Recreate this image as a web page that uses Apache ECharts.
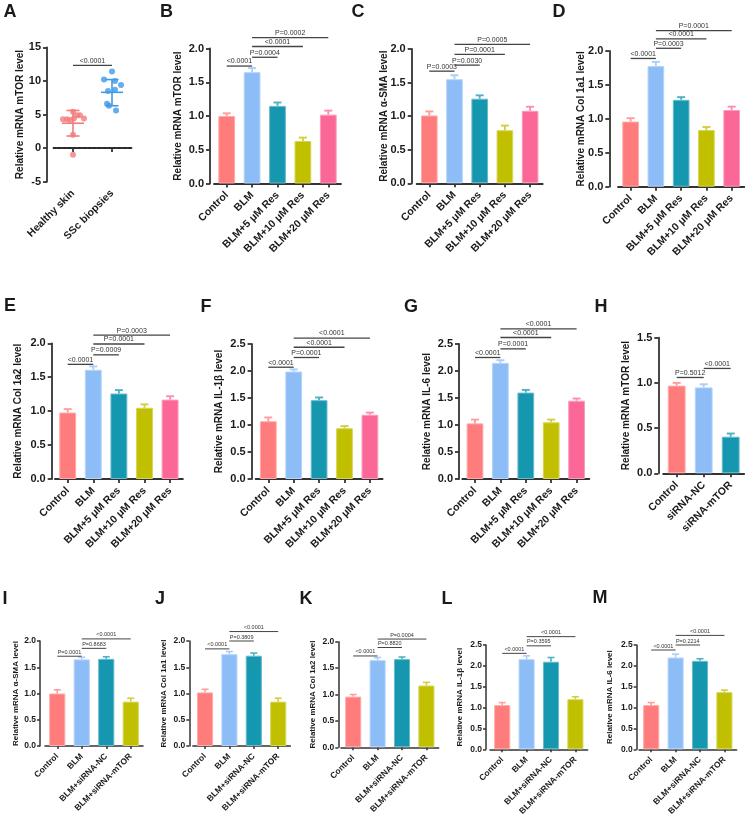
<!DOCTYPE html>
<html><head><meta charset="utf-8">
<script src="https://cdn.jsdelivr.net/npm/echarts@6/dist/echarts.min.js"></script>
<style>html,body{margin:0;padding:0;background:#fff}#c{width:753px;height:815px}</style>
</head><body><div id="c"></div>
<script>
// ================= DATA =================
const catsA = ['Healthy skin', 'SSc biopsies'];
const catsRes = ['Control', 'BLM', 'BLM+5 μM Res', 'BLM+10 μM Res', 'BLM+20 μM Res'];
const catsSi = ['Control', 'siRNA-NC', 'siRNA-mTOR'];
const catsBlmSi = ['Control', 'BLM', 'BLM+siRNA-NC', 'BLM+siRNA-mTOR'];

// Panel A (individual points)
const healthyVals = [5.4, 4.9, 4.9, 4.4, 4.4, 4.3, 4.3, 4.2, 2.0, -1.0];
const healthyJitter = [0, 4, 7, 11, 1, -10, -6, -3, 0, 0];
const sscVals = [11.4, 10.2, 10.0, 9.4, 8.7, 8.5, 6.6, 6.3, 5.6];
const sscJitter = [0, -8, 3, 9, 3, -4, -5, -3, 4];
const aMean = [3.7, 8.3];
const aSdLow = [1.8, 6.3];
const aSdHigh = [5.6, 10.2];
const aSig = [[0, 1, 12.3, '<0.0001']];

// Bar panels: mean, upper error, significance brackets [from, to, y, label]
const bMean = [1.00, 1.65, 1.15, 0.63, 1.02];
const bErr  = [1.04, 1.71, 1.20, 0.68, 1.08];
const bSig  = [[0,1,1.74,'<0.0001'],[1,2,1.87,'P=0.0004'],[1,3,2.03,'<0.0001'],[1,4,2.16,'P=0.0002']];

const cMean = [1.01, 1.55, 1.26, 0.79, 1.08];
const cErr  = [1.07, 1.61, 1.31, 0.86, 1.14];
const cSig  = [[0,1,1.67,'P=0.0003'],[1,2,1.76,'P=0.0030'],[1,3,1.92,'P=0.0001'],[1,4,2.07,'P=0.0005']];

const dMean = [0.96, 1.78, 1.28, 0.835, 1.13];
const dErr  = [1.01, 1.84, 1.32, 0.88, 1.18];
const dSig  = [[0,1,1.89,'<0.0001'],[1,2,2.04,'P=0.0003'],[1,3,2.18,'<0.0001'],[1,4,2.30,'P=0.0001']];

const eMean = [0.98, 1.61, 1.26, 1.05, 1.17];
const eErr  = [1.03, 1.66, 1.31, 1.10, 1.22];
const eSig  = [[0,1,1.69,'<0.0001'],[1,2,1.83,'P=0.0009'],[1,3,1.99,'P=0.0001'],[1,4,2.12,'P=0.0003']];

const fMean = [1.07, 1.99, 1.46, 0.94, 1.19];
const fErr  = [1.14, 2.03, 1.51, 0.98, 1.23];
const fSig  = [[0,1,2.07,'<0.0001'],[1,2,2.25,'P=0.0001'],[1,3,2.44,'<0.0001'],[1,4,2.61,'<0.0001']];

const gMean = [1.03, 2.15, 1.60, 1.05, 1.45];
const gErr  = [1.10, 2.20, 1.65, 1.10, 1.49];
const gSig  = [[0,1,2.25,'<0.0001'],[1,2,2.41,'P=0.0001'],[1,3,2.62,'<0.0001'],[1,4,2.78,'<0.0001']];

const hMean = [0.97, 0.95, 0.405];
const hErr  = [1.00, 0.985, 0.44];
const hSig  = [[0,1,1.06,'P=0.5012'],[1,2,1.16,'<0.0001']];

const iMean = [1.00, 1.65, 1.66, 0.845];
const iErr  = [1.07, 1.69, 1.70, 0.91];
const iSig  = [[0,1,1.71,'P=0.0001'],[1,2,1.86,'P=0.8683'],[1,3,2.04,'<0.0001']];

const jMean = [1.02, 1.75, 1.72, 0.845];
const jErr  = [1.08, 1.80, 1.77, 0.91];
const jSig  = [[0,1,1.85,'<0.0001'],[1,2,2.00,'P=0.3809'],[1,3,2.18,'<0.0001']];

const kMean = [0.96, 1.65, 1.67, 1.17];
const kErr  = [1.00, 1.70, 1.71, 1.23];
const kSig  = [[0,1,1.73,'<0.0001'],[1,2,1.89,'P=0.8820'],[1,3,2.05,'P=0.0004']];

const lMean = [1.06, 2.16, 2.10, 1.20];
const lErr  = [1.12, 2.24, 2.20, 1.26];
const lSig  = [[0,1,2.30,'<0.0001'],[1,2,2.48,'P=0.3595'],[1,3,2.70,'<0.0001']];

const mMean = [1.06, 2.20, 2.12, 1.37];
const mErr  = [1.12, 2.28, 2.17, 1.42];
const mSig  = [[0,1,2.38,'<0.0001'],[1,2,2.50,'P=0.2214'],[1,3,2.73,'<0.0001']];

// ================= STYLE / LAYOUT =================
const FONT = '"Liberation Sans", Arial, Helvetica, sans-serif';
const AX = '#333';
const colRes = ['#ff7c7c', '#8dbdf7', '#1697b0', '#c0bf00', '#fb6797'];
const colH = ['#ff7c7c', '#8dbdf7', '#1697b0'];
const colSi = ['#ff7c7c', '#8dbdf7', '#1697b0', '#c0bf00'];

function lighten(hex, t) {
  const n = parseInt(hex.slice(1), 16);
  let r = n >> 16, g = (n >> 8) & 255, b = n & 255;
  r = Math.round(r + (255 - r) * t); g = Math.round(g + (255 - g) * t); b = Math.round(b + (255 - b) * t);
  return 'rgb(' + r + ',' + g + ',' + b + ')';
}

const BIG = {tick: 11, title: 10, cat: 10.5, sig: 7, cap: 4, lw: 1.5, tickMargin: 6, tickLen: 4, sigLw: 1.3, catMargin: 10};
const SMALL = {tick: 8.5, title: 8, cat: 8.5, sig: 5.5, cap: 3.5, lw: 1.2, tickMargin: 4, tickLen: 3, sigLw: 1, catMargin: 9};

const panels = [
  {cats: catsRes, mean: bMean, err: bErr, sig: bSig, col: colRes, title: 'Relative mRNA mTOR level', left: 214, top: 48.5, width: 127, height: 135, yMax: 2, off: 4, gap: 27, s: BIG},
  {cats: catsRes, mean: cMean, err: cErr, sig: cSig, col: colRes, title: 'Relative mRNA α-SMA level', left: 416.7, top: 49, width: 126, height: 134.3, yMax: 2, off: 5, gap: 22, s: BIG},
  {cats: catsRes, mean: dMean, err: dErr, sig: dSig, col: colRes, title: 'Relative mRNA Col 1a1 level', left: 618, top: 51, width: 126.3, height: 135.7, yMax: 2, off: 8.7, gap: 23, s: BIG},
  {cats: catsRes, mean: eMean, err: eErr, sig: eSig, col: colRes, title: 'Relative mRNA Col 1a2 level', left: 54.9, top: 343.3, width: 128, height: 135.7, yMax: 2, off: 3.2, gap: 28, s: BIG},
  {cats: catsRes, mean: fMean, err: fErr, sig: fSig, col: colRes, title: 'Relative mRNA IL-1β level', left: 255.6, top: 344, width: 127, height: 135, yMax: 2.5, off: 4, gap: 27, s: BIG},
  {cats: catsRes, mean: gMean, err: gErr, sig: gSig, col: colRes, title: 'Relative mRNA IL-6 level', left: 462.3, top: 344, width: 127, height: 135, yMax: 2.5, off: 3.3, gap: 27, s: BIG},
  {cats: catsSi, mean: hMean, err: hErr, sig: hSig, col: colH, title: 'Relative mRNA mTOR level', left: 663.2, top: 337.7, width: 81, height: 135.6, yMax: 1.5, off: 4.9, gap: 27, s: BIG},
  {cats: catsBlmSi, mean: iMean, err: iErr, sig: iSig, col: colSi, title: 'Relative mRNA α-SMA level', left: 45, top: 641, width: 98, height: 105, yMax: 2, off: 5, gap: 20.5, s: SMALL},
  {cats: catsBlmSi, mean: jMean, err: jErr, sig: jSig, col: colSi, title: 'Relative mRNA Col 1a1 level', left: 192.8, top: 641, width: 97.6, height: 105, yMax: 2, off: 3.5, gap: 22, s: SMALL},
  {cats: catsBlmSi, mean: kMean, err: kErr, sig: kSig, col: colSi, title: 'Relative mRNA Col 1a2 level', left: 341, top: 641.7, width: 97.6, height: 105.6, yMax: 2, off: 2.7, gap: 22, s: SMALL},
  {cats: catsBlmSi, mean: lMean, err: lErr, sig: lSig, col: colSi, title: 'Relative mRNA IL-1β level', left: 490, top: 645, width: 97.6, height: 104.3, yMax: 2.5, off: 4, gap: 22, s: SMALL},
  {cats: catsBlmSi, mean: mMean, err: mErr, sig: mSig, col: colSi, title: 'Relative mRNA IL-6 level', left: 639, top: 645, width: 97.6, height: 104.3, yMax: 2.5, off: 2.3, gap: 23, s: SMALL}
];

const letters = [
  ['A', 10, 12.5], ['B', 166.5, 12], ['C', 358, 12], ['D', 559, 12.5],
  ['E', 10, 306], ['F', 206, 307], ['G', 411, 307], ['H', 601, 307],
  ['I', 5, 599], ['J', 160, 599], ['K', 306, 599], ['L', 447, 599], ['M', 600, 598]
];

// ================= BUILD =================
const grid = [], xAxis = [], yAxis = [], series = [];

function axisPair(gi, cats, s, yMin, yMax, yInt, off, gap, title, fmt) {
  xAxis.push({
    gridIndex: gi, type: 'category', data: cats,
    axisLine: {show: true, lineStyle: {color: AX, width: s.lw + 0.3}},
    axisTick: {show: true, alignWithLabel: true, length: s.tickLen, lineStyle: {color: AX, width: s.lw + 0.3}},
    axisLabel: {rotate: 45, interval: 0, fontSize: s.cat, fontWeight: 'bold', color: '#1a1a1a', fontFamily: FONT, margin: s.catMargin},
    splitLine: {show: false}
  });
  yAxis.push({
    gridIndex: gi, type: 'value', min: yMin, max: yMax, interval: yInt, offset: off,
    name: title, nameLocation: 'middle', nameGap: gap, nameMoveOverlap: false,
    nameTextStyle: {fontSize: s.title, fontWeight: 'bold', color: '#1a1a1a', fontFamily: FONT},
    axisLine: {show: true, lineStyle: {color: AX, width: s.lw + 0.3}},
    axisTick: {show: true, length: s.tickLen, lineStyle: {color: AX, width: s.lw + 0.3}},
    axisLabel: {fontSize: s.tick, fontWeight: 'bold', color: '#1a1a1a', fontFamily: FONT, margin: s.tickMargin, formatter: fmt},
    splitLine: {show: false}
  });
}

function sigSeries(gi, sig, s) {
  const labels = sig.map(d => d[3]);
  series.push({
    type: 'custom', xAxisIndex: gi, yAxisIndex: gi, clip: false, silent: true, z: 5,
    data: sig.map(d => [d[0], d[1], d[2]]),
    encode: {x: [0, 1], y: 2},
    renderItem: function (params, api) {
      const a = api.coord([api.value(0), api.value(2)]);
      const b = api.coord([api.value(1), api.value(2)]);
      return {type: 'group', children: [
        {type: 'line', shape: {x1: a[0], y1: a[1], x2: b[0], y2: b[1]}, style: {stroke: '#444', lineWidth: s.sigLw}},
        {type: 'text', style: {text: labels[params.dataIndex], x: (a[0] + b[0]) / 2, y: a[1] - 1,
          align: 'center', verticalAlign: 'bottom', fontSize: s.sig, fill: '#333', fontFamily: FONT}}
      ]};
    }
  });
}

// ---- Panel A ----
grid.push({left: 53.5, top: 47.3, width: 78, height: 134.4, outerBoundsMode: 'none', containLabel: false});
axisPair(0, catsA, BIG, -5, 15, 5, 6.5, 22, 'Relative mRNA mTOR level', v => String(v));
const aCol = ['#f47b7b', '#3f9ae6'];
series.push({
  type: 'scatter', xAxisIndex: 0, yAxisIndex: 0, symbolSize: 6, z: 3,
  itemStyle: {color: aCol[0]},
  data: healthyVals.map((v, k) => ({value: [0, v], symbolOffset: [healthyJitter[k], 0]})),
  markLine: {silent: true, symbol: 'none', label: {show: false},
    lineStyle: {type: [2, 3], color: '#222', width: 1.5}, data: [{yAxis: 0}]}
});
series.push({
  type: 'scatter', xAxisIndex: 0, yAxisIndex: 0, symbolSize: 6, z: 3,
  itemStyle: {color: aCol[1]},
  data: sscVals.map((v, k) => ({value: [1, v], symbolOffset: [sscJitter[k], 0]}))
});
series.push({
  type: 'custom', xAxisIndex: 0, yAxisIndex: 0, clip: false, silent: true, z: 4,
  data: aMean.map((m, i) => [i, m, aSdLow[i], aSdHigh[i]]),
  encode: {x: 0, y: [1, 2, 3]},
  renderItem: function (params, api) {
    const i = api.value(0);
    const pm = api.coord([i, api.value(1)]);
    const pl = api.coord([i, api.value(2)]);
    const ph = api.coord([i, api.value(3)]);
    const st = {stroke: aCol[i], lineWidth: 1.6};
    return {type: 'group', children: [
      {type: 'line', shape: {x1: pm[0] - 11, y1: pm[1], x2: pm[0] + 11, y2: pm[1]}, style: st},
      {type: 'line', shape: {x1: pm[0], y1: pl[1], x2: pm[0], y2: ph[1]}, style: st},
      {type: 'line', shape: {x1: pm[0] - 6.5, y1: pl[1], x2: pm[0] + 6.5, y2: pl[1]}, style: st},
      {type: 'line', shape: {x1: pm[0] - 6.5, y1: ph[1], x2: pm[0] + 6.5, y2: ph[1]}, style: st}
    ]};
  }
});
sigSeries(0, aSig, BIG);

// ---- Bar panels ----
panels.forEach((p, idx) => {
  const gi = idx + 1;
  const s = p.s;
  grid.push({left: p.left, top: p.top, width: p.width, height: p.height, outerBoundsMode: 'none', containLabel: false});
  axisPair(gi, p.cats, s, 0, p.yMax, 0.5, p.off, p.gap, p.title, v => v.toFixed(1));
  const cols = p.col;
  series.push({
    type: 'bar', xAxisIndex: gi, yAxisIndex: gi, barWidth: '66%', z: 2,
    data: p.mean.map((v, i) => ({value: v, itemStyle: {color: cols[i], borderColor: lighten(cols[i], 0.35), borderWidth: 1}}))
  });
  const errCols = cols.map(c => lighten(c, 0.25));
  series.push({
    type: 'custom', xAxisIndex: gi, yAxisIndex: gi, clip: false, silent: true, z: 4,
    data: p.mean.map((m, i) => [i, m, p.err[i]]),
    encode: {x: 0, y: [1, 2]},
    renderItem: function (params, api) {
      const i = api.value(0);
      const base = api.coord([i, api.value(1)]);
      const top = api.coord([i, api.value(2)]);
      const st = {stroke: errCols[i], lineWidth: s.lw + 0.4};
      return {type: 'group', children: [
        {type: 'line', shape: {x1: top[0], y1: base[1], x2: top[0], y2: top[1]}, style: st},
        {type: 'line', shape: {x1: top[0] - s.cap, y1: top[1], x2: top[0] + s.cap, y2: top[1]}, style: st}
      ]};
    }
  });
  sigSeries(gi, p.sig, s);
});

const graphic = letters.map(l => ({
  type: 'text', x: l[1], y: l[2], silent: true,
  style: {text: l[0], fontSize: 18, fontWeight: 'bold', fontFamily: FONT, fill: '#1a1a1a', align: 'center', verticalAlign: 'middle'}
}));

const chart = echarts.init(document.getElementById('c'), null, {renderer: 'canvas'});
chart.setOption({
  backgroundColor: '#fff',
  animation: false,
  textStyle: {fontFamily: FONT},
  grid, xAxis, yAxis, series, graphic,
  tooltip: {show: false}
});
</script>
</body></html>
